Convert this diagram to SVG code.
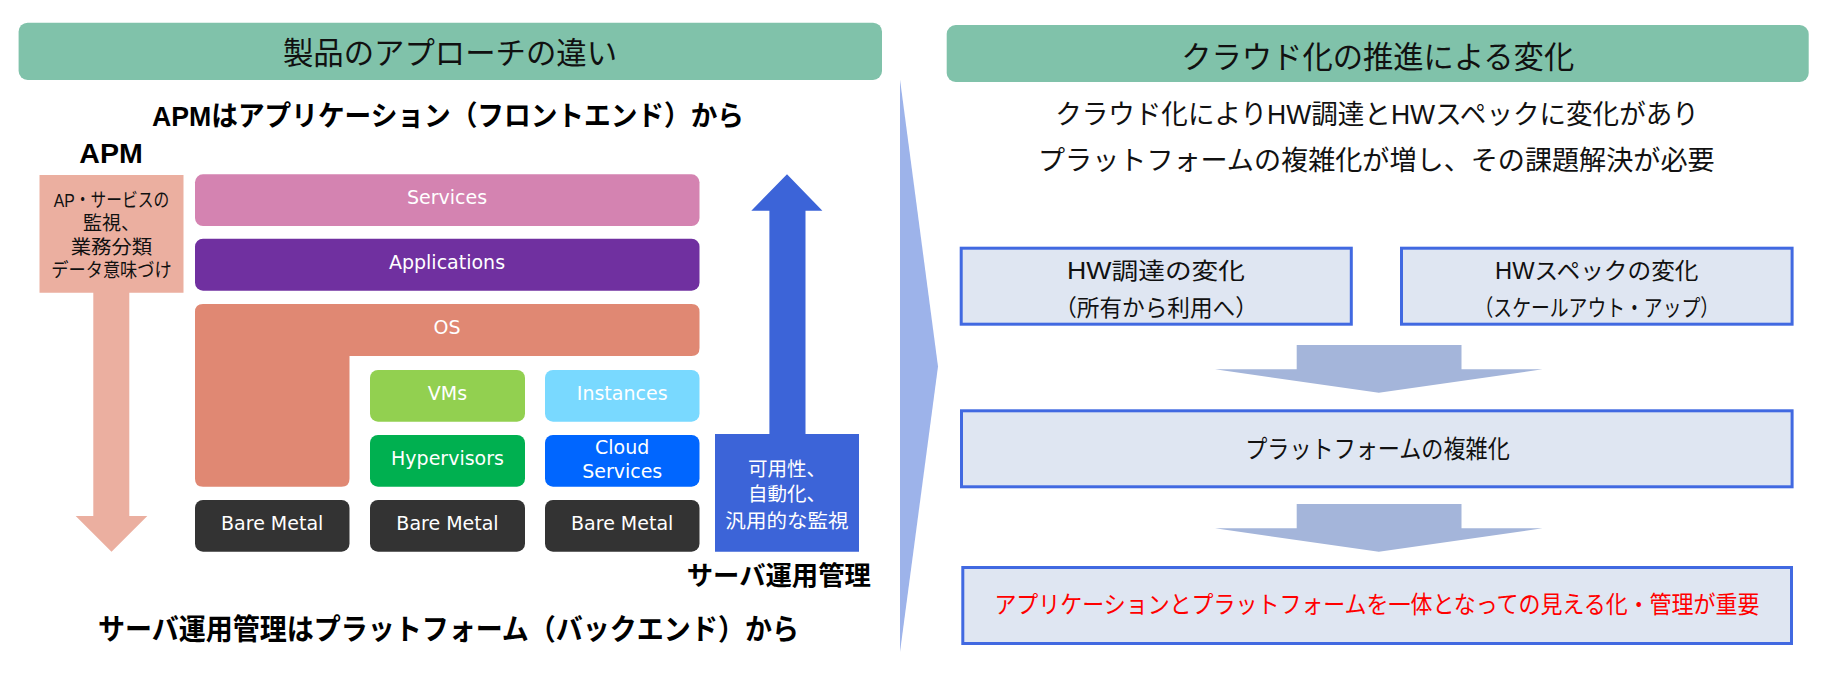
<svg xmlns="http://www.w3.org/2000/svg" width="1827" height="673" viewBox="0 0 1827 673">
<style>
.jp{font-family:'Noto Sans CJK JP','Noto Sans CJK SC',sans-serif;}
.mix{font-family:'Liberation Sans','Noto Sans CJK JP',sans-serif;}
.lbl{font-family:'DejaVu Sans','Liberation Sans',sans-serif;font-size:19px;fill:#ffffff;text-anchor:middle;}
.hdr{fill:#80c2aa;}
.hdrt{font-size:31px;fill:#111111;text-anchor:middle;}
.bold{font-weight:700;fill:#000000;}
.wbox{fill:#dfe6f2;stroke:#4169e1;stroke-width:3;}
.bt{font-size:23px;fill:#111111;text-anchor:middle;}
.flow{fill:#a4b5da;}
.bm{fill:#333333;}
.w{fill:#ffffff;text-anchor:middle;}
</style>
<rect width="1827" height="673" fill="#ffffff"/>

<g id="left-header">
<rect class="hdr" x="18.6" y="22.7" width="863.4" height="57.3" rx="9"/>
<text class="jp hdrt" x="450" y="63.5" textLength="334" lengthAdjust="spacingAndGlyphs">製品のアプローチの違い</text>
</g>

<g id="right-header">
<rect class="hdr" x="946.7" y="25" width="862" height="57" rx="9"/>
<text class="jp hdrt" x="1377.7" y="67.5" textLength="393" lengthAdjust="spacingAndGlyphs">クラウド化の推進による変化</text>
</g>

<g id="separator">
<polygon points="900,79.5 938,366.6 900,652" fill="#9db3ea"/>
</g>

<g id="apm-title">
<text class="mix bold" x="448" y="126" font-size="28" text-anchor="middle" textLength="592" lengthAdjust="spacingAndGlyphs">APMはアプリケーション（フロントエンド）から</text>
</g>

<g id="apm-label">
<text class="mix bold" x="79.3" y="162.7" font-size="27" textLength="63.4" lengthAdjust="spacingAndGlyphs">APM</text>
</g>

<g id="apm-arrow">
<polygon points="39.5,175 183.5,175 183.5,292.7 129.3,292.7 129.3,516 147.3,516 111.5,551.7 75.7,516 93.3,516 93.3,292.7 39.5,292.7" fill="#ebafa0"/>
<g class="mix" font-size="19" fill="#111111" text-anchor="middle">
<text x="111.5" y="207" textLength="115.4" lengthAdjust="spacingAndGlyphs">AP・サービスの</text>
<text x="111.5" y="230">監視、</text>
<text x="111.5" y="253.5" textLength="81.5" lengthAdjust="spacingAndGlyphs">業務分類</text>
<text x="111.5" y="277" textLength="120.5" lengthAdjust="spacingAndGlyphs">データ意味づけ</text>
</g>
</g>

<g id="services">
<rect x="195" y="174.3" width="504.5" height="51.7" rx="8" fill="#d483b1"/>
<text class="lbl" x="447" y="204">Services</text>
</g>
<g id="applications">
<rect x="195" y="238.7" width="504.5" height="52" rx="8" fill="#7030a0"/>
<text class="lbl" x="447" y="268.7">Applications</text>
</g>
<g id="os">
<path d="M203,304 H691.5 Q699.5,304 699.5,312 V348 Q699.5,356 691.5,356 H349.5 V478.7 Q349.5,486.7 341.5,486.7 H203 Q195,486.7 195,478.7 V312 Q195,304 203,304 Z" fill="#e08873"/>
<text class="lbl" x="447" y="334">OS</text>
</g>
<g id="vms">
<rect x="370" y="370" width="155" height="51.7" rx="8" fill="#92d050"/>
<text class="lbl" x="447.5" y="400">VMs</text>
</g>
<g id="instances">
<rect x="545" y="370" width="154.5" height="51.7" rx="8" fill="#79d9ff"/>
<text class="lbl" x="622.2" y="400">Instances</text>
</g>
<g id="hypervisors">
<rect x="370" y="435" width="155" height="51.7" rx="8" fill="#00b050"/>
<text class="lbl" x="447.5" y="465">Hypervisors</text>
</g>
<g id="cloud-services">
<rect x="545" y="435" width="154.5" height="51.7" rx="8" fill="#0066ff"/>
<text class="lbl" x="622.2" y="454">Cloud</text>
<text class="lbl" x="622.2" y="478.3">Services</text>
</g>
<g id="bare-metal-1">
<rect class="bm" x="195" y="500" width="154.5" height="51.7" rx="8"/>
<text class="lbl" x="272.2" y="530">Bare Metal</text>
</g>
<g id="bare-metal-2">
<rect class="bm" x="370" y="500" width="155" height="51.7" rx="8"/>
<text class="lbl" x="447.5" y="530">Bare Metal</text>
</g>
<g id="bare-metal-3">
<rect class="bm" x="545" y="500" width="154.5" height="51.7" rx="8"/>
<text class="lbl" x="622.2" y="530">Bare Metal</text>
</g>

<g id="server-arrow">
<polygon points="787,174.3 822.4,210.7 805.5,210.7 805.5,434 859,434 859,551.7 715,551.7 715,434 769.4,434 769.4,210.7 751.3,210.7" fill="#3c64d8"/>
<g class="jp w" font-size="19.5">
<text x="787" y="476">可用性、</text>
<text x="787" y="501">自動化、</text>
<text x="787" y="527.5" textLength="123.3" lengthAdjust="spacingAndGlyphs">汎用的な監視</text>
</g>
</g>

<g id="server-label">
<text class="jp bold" x="778.8" y="584.7" font-size="26" text-anchor="middle" textLength="184" lengthAdjust="spacingAndGlyphs">サーバ運用管理</text>
</g>

<g id="server-title">
<text class="jp bold" x="448.4" y="640" font-size="29" text-anchor="middle" textLength="701" lengthAdjust="spacingAndGlyphs">サーバ運用管理はプラットフォーム（バックエンド）から</text>
</g>

<g id="cloud-summary">
<text class="mix" x="1377" y="124.3" font-size="27" fill="#111111" text-anchor="middle" textLength="643.7" lengthAdjust="spacingAndGlyphs">クラウド化によりHW調達とHWスペックに変化があり</text>
<text class="jp" x="1376.3" y="170" font-size="27" fill="#111111" text-anchor="middle" textLength="676.6" lengthAdjust="spacingAndGlyphs">プラットフォームの複雑化が増し、その課題解決が必要</text>
</g>

<g id="hw-procurement">
<rect class="wbox" x="961.2" y="248.2" width="390.1" height="76"/>
<text class="mix bt" x="1156" y="278.5" textLength="178" lengthAdjust="spacingAndGlyphs">HW調達の変化</text>
<text class="mix bt" x="1156" y="315.5" textLength="203.7" lengthAdjust="spacingAndGlyphs">（所有から利用へ）</text>
</g>

<g id="hw-spec">
<rect class="wbox" x="1401.5" y="248.2" width="390.6" height="76"/>
<text class="mix bt" x="1596.8" y="278.5" textLength="203.5" lengthAdjust="spacingAndGlyphs">HWスペックの変化</text>
<text class="mix bt" x="1596.8" y="315.5" textLength="244.6" lengthAdjust="spacingAndGlyphs">（スケールアウト・アップ）</text>
</g>

<g id="platform-complexity">
<rect class="wbox" x="961.5" y="410.8" width="830.6" height="76"/>
<text class="jp" x="1377.5" y="457.5" font-size="25" fill="#111111" text-anchor="middle" textLength="264.5" lengthAdjust="spacingAndGlyphs">プラットフォームの複雑化</text>
</g>

<g id="integrated-visibility">
<rect class="wbox" x="962.8" y="567.5" width="828.7" height="76"/>
<text class="jp" x="1376.9" y="613" font-size="24" fill="#ff0000" text-anchor="middle" textLength="765" lengthAdjust="spacingAndGlyphs">アプリケーションとプラットフォームを一体となっての見える化・管理が重要</text>
</g>

<g id="connectors">
<polygon class="flow" points="1296.7,345 1461.5,345 1461.5,369.3 1542.5,369.3 1378.8,392.7 1215,369.3 1296.7,369.3"/>
<polygon class="flow" points="1296.7,504 1461.5,504 1461.5,528.3 1542.5,528.3 1378.8,551.7 1215,528.3 1296.7,528.3"/>
</g>
</svg>
